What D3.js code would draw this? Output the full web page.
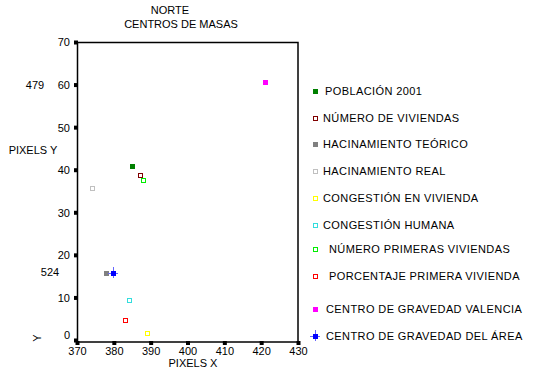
<!DOCTYPE html>
<html><head><meta charset="utf-8">
<script src="https://cdn.jsdelivr.net/npm/d3@7"></script>
<style>
body{margin:0;background:#fff;}
text{font-family:"Liberation Sans",Arial,sans-serif;font-size:11px;fill:#000;}
</style></head>
<body>
<svg id="c" width="542" height="369"></svg>
<script>
const seriesNames = ["POBLACIÓN 2001","NÚMERO DE VIVIENDAS","HACINAMIENTO TEÓRICO","HACINAMIENTO REAL","CONGESTIÓN EN VIVIENDA","CONGESTIÓN HUMANA","NÚMERO PRIMERAS VIVIENDAS","PORCENTAJE PRIMERA VIVIENDA","CENTRO DE GRAVEDAD VALENCIA","CENTRO DE GRAVEDAD DEL ÁREA"];
const xValues = [385.0, 387.2, 377.9, 374.1, 389.0, 384.2, 388.0, 383.1, 421.0, 379.9];
const yValues = [40.8, 38.7, 15.7, 35.6, 1.6, 9.5, 37.7, 4.6, 60.7, 15.7];
const colors = ["#008000","#800000","#808080","#c0c0c0","#ffff00","#33dddd","#00ee00","#ff0000","#ff00ff","#0000ff"];
const filled = [true,false,true,false,false,false,false,false,true,true];
const xTicks = [370,380,390,400,410,420,430];
const yTicks = [0,10,20,30,40,50,60,70];

const svg = d3.select("#c");
const x = d3.scaleLinear().domain([370,430]).range([77,298]);
const y = d3.scaleLinear().domain([0,70]).range([340,42]);

// frame
svg.append("rect").attr("x",77.5).attr("y",42.5).attr("width",220.5).attr("height",299.5)
  .attr("fill","none").attr("stroke","#000").attr("stroke-width",1.5);

// y axis
const yAx = svg.append("g").attr("transform","translate(77,0)")
  .call(d3.axisLeft(y).tickValues(yTicks).tickSize(0).tickPadding(7));
yAx.select(".domain").remove();
yAx.selectAll("text").style("font-size","11px").attr("font-family","Liberation Sans, Arial").attr("dy","0.35em");
yAx.selectAll(".tick").filter(d=>d===0).select("text").attr("y",-5);
yAx.selectAll(".tick").append("rect").attr("x",-3).attr("y",-2).attr("width",4).attr("height",4).attr("fill","#000");

// x axis
const xAx = svg.append("g").attr("transform","translate(0,342)")
  .call(d3.axisBottom(x).tickValues(xTicks).tickSize(0).tickPadding(5));
xAx.select(".domain").remove();
xAx.selectAll("text").style("font-size","11px").attr("font-family","Liberation Sans, Arial").attr("y",5);
xAx.selectAll(".tick").append("rect").attr("x",-2).attr("y",-1).attr("width",4).attr("height",4).attr("fill","#000");

// titles
svg.append("text").attr("x",170).attr("y",14).attr("text-anchor","middle").text("NORTE");
svg.append("text").attr("x",181).attr("y",28).attr("text-anchor","middle").text("CENTROS DE MASAS");
svg.append("text").attr("x",193).attr("y",367).attr("text-anchor","middle").text("PIXELS X");
svg.append("text").attr("x",33).attr("y",154).attr("text-anchor","middle").text("PIXELS Y");
svg.append("text").attr("x",35).attr("y",89).attr("text-anchor","middle").text("479");
svg.append("text").attr("x",50).attr("y",276).attr("text-anchor","middle").text("524");
svg.append("text").attr("transform","translate(41,338) rotate(-90)").attr("text-anchor","middle").text("Y");

// points
function marker(g, i, cx, cy){
  if (i===9){
    g.append("line").attr("x1",cx-5).attr("x2",cx+5).attr("y1",cy+0.5).attr("y2",cy+0.5).attr("stroke","#6666ff").attr("stroke-width",1);
    g.append("line").attr("x1",cx+0.5).attr("x2",cx+0.5).attr("y1",cy-6).attr("y2",cy+5).attr("stroke","#6666ff").attr("stroke-width",1);
  }
  if (filled[i]){
    g.append("rect").attr("x",cx-2).attr("y",cy-2).attr("width",5).attr("height",5).attr("fill",colors[i]).attr("shape-rendering","crispEdges");
  } else {
    g.append("rect").attr("x",cx-1.5).attr("y",cy-1.5).attr("width",4).attr("height",4).attr("fill","none").attr("stroke",colors[i]).attr("stroke-width",1).attr("shape-rendering","crispEdges");
  }
}
const pts = svg.append("g");
seriesNames.forEach((n,i)=>{ marker(pts, i, Math.round(x(xValues[i])), Math.round(y(yValues[i]))); });

// legend
const legY = [91,118,144,171,198,225,249,276,309,336];
const legTx = [325,323,323,323,323,323,329,329,326,326];
const leg = svg.append("g");
seriesNames.forEach((n,i)=>{
  marker(leg, i, 315, legY[i]);
  leg.append("text").attr("x",legTx[i]).attr("y",legY[i]+4).style("letter-spacing","0.4px").text(n);
});
</script>
</body></html>
